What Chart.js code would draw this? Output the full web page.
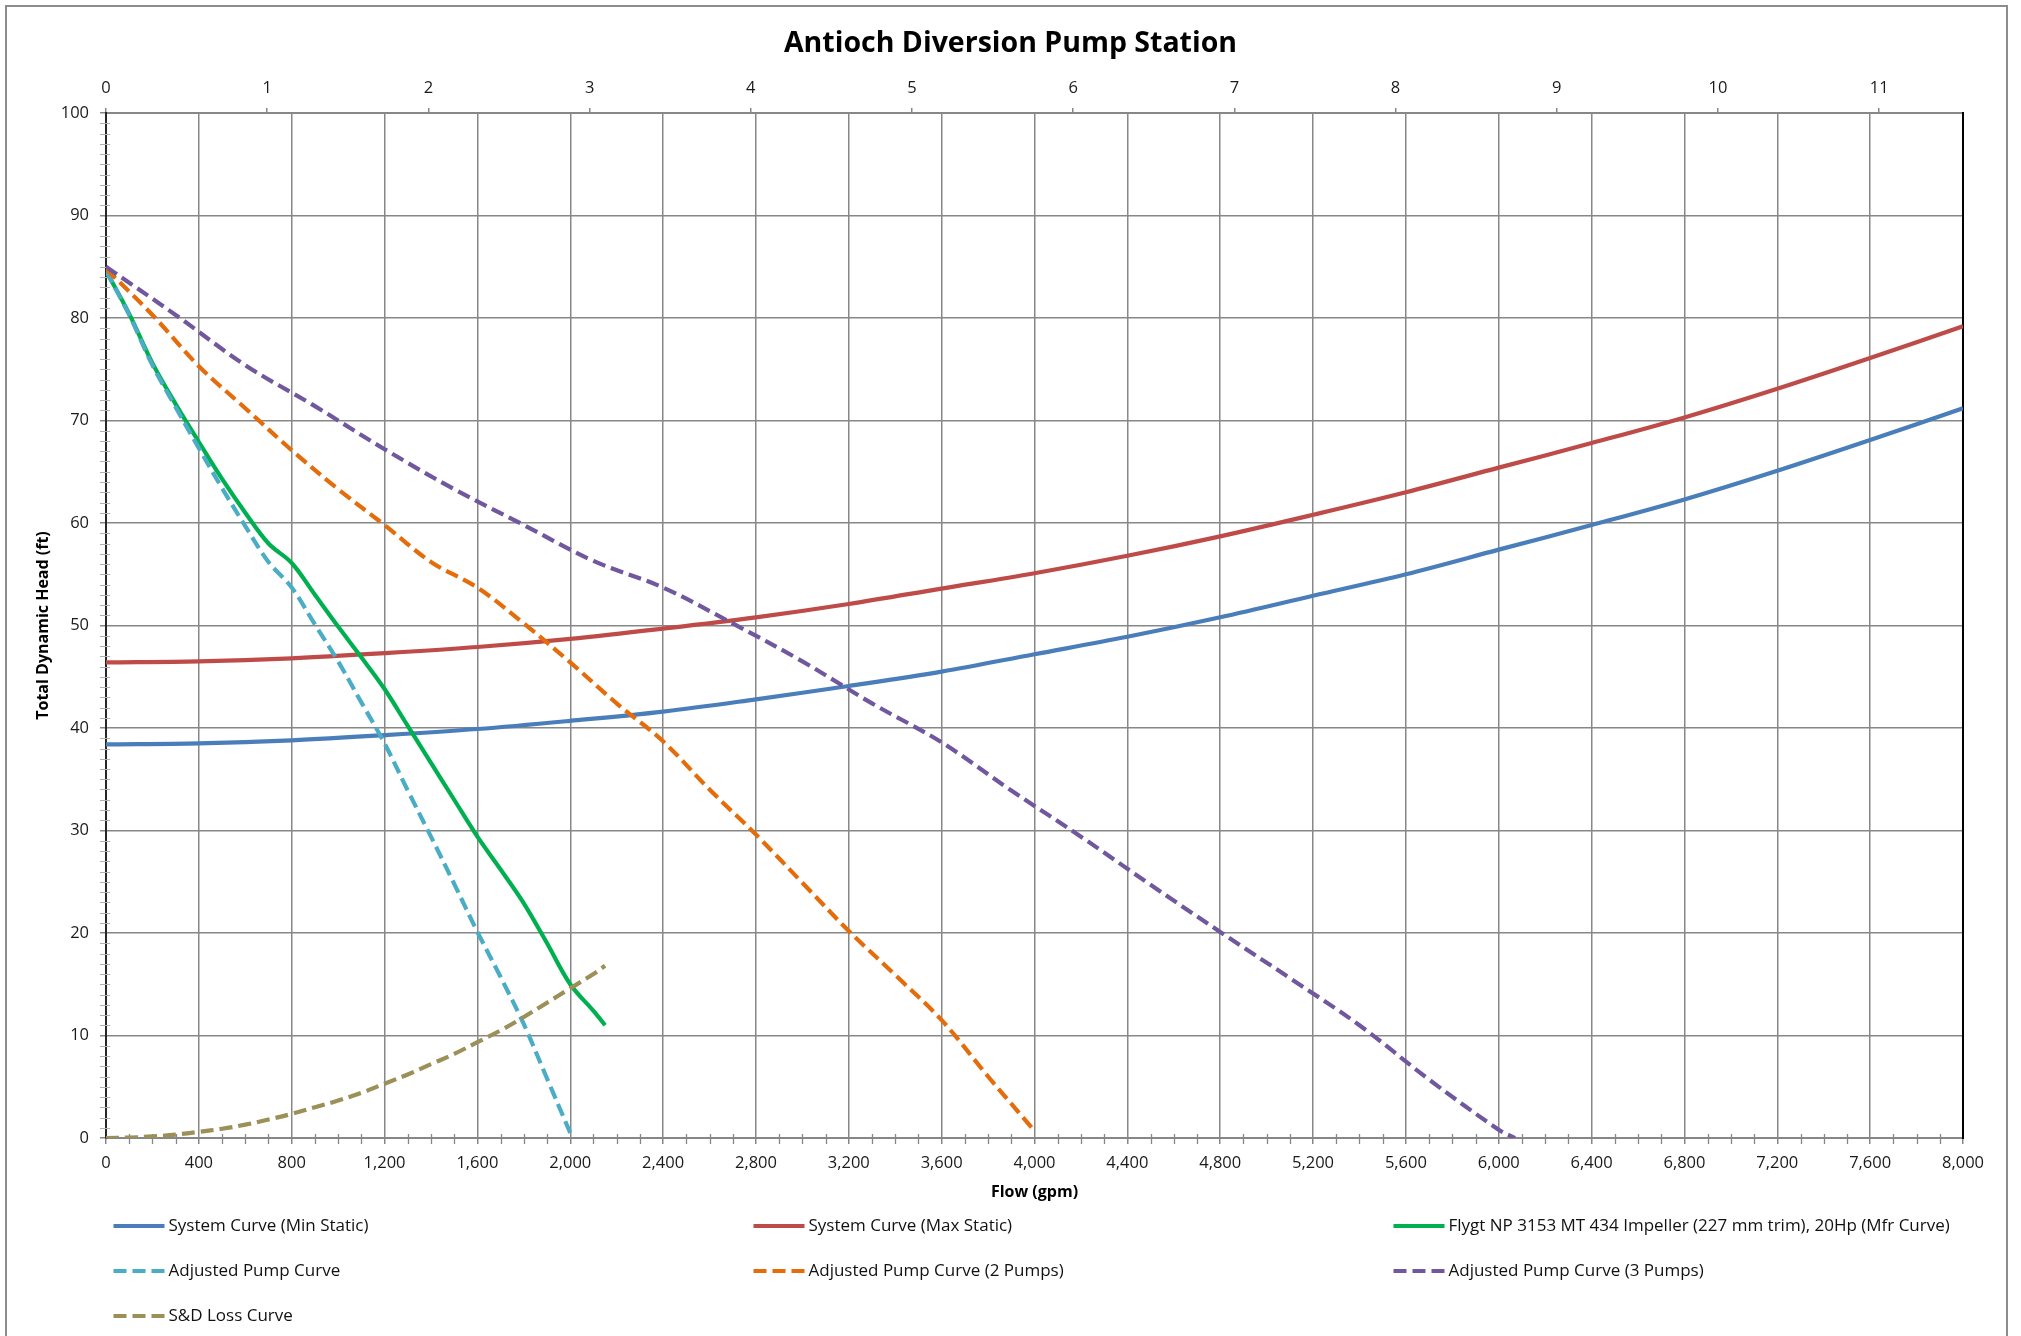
<!DOCTYPE html>
<html>
<head>
<meta charset="utf-8">
<title>Antioch Diversion Pump Station</title>
<script src="https://cdn.jsdelivr.net/npm/chart.js@4.4.1/dist/chart.umd.min.js"></script>
<style>
  html, body { margin: 0; padding: 0; background: #fff; overflow: hidden; }
  #wrap { position: relative; width: 2021px; height: 1336px; }
  #wrap canvas { position: absolute; left: 0; top: 0; }
  #frame { position: absolute; left: 5px; top: 5px; width: 2003px; height: 1400px;
           border: 2px solid #8c8c8c; box-sizing: border-box; pointer-events: none; }
</style>
</head>
<body>
<div id="wrap">
  <canvas id="chart" width="2021" height="1336"></canvas>
  <div id="frame"></div>
</div>
<script>
// ---- System curves (flow in gpm, head in ft) ----
const systemFlow = [0, 400, 800, 1200, 1600, 2000, 2400, 2800, 3200, 3600, 4000,
                    4400, 4800, 5200, 5600, 6000, 6400, 6800, 7200, 7600, 8000];
const systemHeadMin = [38.4, 38.5, 38.8, 39.3, 39.9, 40.7, 41.6, 42.8, 44.1, 45.5, 47.2,
                       48.9, 50.8, 52.9, 55.0, 57.4, 59.8, 62.3, 65.1, 68.1, 71.2];
const systemHeadMax = [46.4, 46.5, 46.8, 47.3, 47.9, 48.7, 49.7, 50.8, 52.1, 53.6, 55.1,
                       56.8, 58.7, 60.8, 63.0, 65.4, 67.8, 70.3, 73.1, 76.1, 79.2];

// ---- Single pump: manufacturer curve and suction/discharge losses ----
const pumpFlow = [0, 100, 200, 300, 400, 500, 600, 700, 800, 900, 1000, 1100,
                  1200, 1300, 1400, 1500, 1600, 1700, 1800, 1900, 2000, 2100, 2150];
const mfrHead  = [84.6, 80.4, 75.6, 71.6, 67.9, 64.3, 61.0, 58.0, 56.1, 53.0, 49.9, 46.9,
                  43.8, 40.2, 36.6, 33.0, 29.4, 26.2, 22.9, 19.0, 15.0, 12.4, 11.0];
const lossHead = [0, 0.04, 0.15, 0.33, 0.6, 0.9, 1.3, 1.8, 2.35, 3.0, 3.65, 4.4,
                  5.3, 6.2, 7.2, 8.2, 9.35, 10.5, 11.8, 13.2, 14.6, 16.0, 16.8];

// ---- Adjusted pump curves (1, 2 and 3 pumps running) ----
const adjFlow1 = [0, 100, 200, 300, 400, 500, 600, 700, 800, 900, 1000,
                  1100, 1200, 1300, 1400, 1500, 1600, 1700, 1800, 1900, 2000];
const adjHead1 = [84.6, 80.3, 75.4, 71.3, 67.3, 63.4, 59.7, 56.2, 53.7, 50.1, 46.5,
                  42.5, 38.5, 33.9, 29.4, 24.8, 20.1, 15.7, 11.1, 5.8, 0.5];
const adjFlow2 = [0, 200, 400, 600, 800, 1000, 1200, 1400, 1600, 1800, 2000,
                  2200, 2400, 2600, 2800, 3000, 3200, 3400, 3600, 3800, 4000];
const adjHead2 = [84.8, 80.3, 75.3, 71.2, 67.1, 63.3, 59.8, 56.2, 53.7, 50.2, 46.4,
                  42.4, 38.7, 34.0, 29.6, 24.9, 20.2, 15.9, 11.5, 6.0, 0.7];
const adjFlow3 = [0, 300, 600, 900, 1200, 1500, 1800, 2100, 2400, 2700, 3000,
                  3300, 3600, 3900, 4200, 4500, 4800, 5100, 5400, 5700, 6000, 6070];
const adjHead3 = [85.0, 80.3, 75.4, 71.4, 67.2, 63.3, 59.8, 56.3, 53.7, 50.2, 46.5,
                  42.4, 38.6, 33.9, 29.4, 24.7, 20.1, 15.6, 11.0, 5.7, 0.8, 0];

// ---- Axis ticks ----
const flowTicks = [0, 400, 800, 1200, 1600, 2000, 2400, 2800, 3200, 3600, 4000,
                   4400, 4800, 5200, 5600, 6000, 6400, 6800, 7200, 7600, 8000];
const headTicks = [0, 10, 20, 30, 40, 50, 60, 70, 80, 90, 100];
const mgdTicks  = [0, 1, 2, 3, 4, 5, 6, 7, 8, 9, 10, 11];
const FLOW_MAX = 8000;
const MGD_MAX = 11.52;   // 8,000 gpm expressed in MGD

const seriesNames = [
  'System Curve (Min Static)',
  'System Curve (Max Static)',
  'Flygt NP 3153 MT 434 Impeller (227 mm trim), 20Hp (Mfr Curve)',
  'Adjusted Pump Curve',
  'Adjusted Pump Curve (2 Pumps)',
  'Adjusted Pump Curve (3 Pumps)',
  'S&D Loss Curve'
];

const FONT = "'Open Sans', 'Noto Sans', sans-serif";
const GRID = '#878787';
const DASH = [13, 6];

function points(xs, ys) { return xs.map((x, i) => ({ x: x, y: ys[i] })); }

function series(i, xs, ys, color, dash) {
  return {
    label: seriesNames[i],
    data: points(xs, ys),
    borderColor: color,
    backgroundColor: color,
    borderWidth: 4.2,
    borderDash: dash || [],
    borderCapStyle: 'butt',
    borderJoinStyle: 'round',
    pointRadius: 0,
    tension: 0.35,
    fill: false,
    order: 6 - i,
    xAxisID: 'x',
    yAxisID: 'y'
  };
}

// Minor tick marks along the bottom and left axes
const minorTicks = {
  id: 'minorTicks',
  beforeDatasetsDraw(chart) {
    const ctx = chart.ctx;
    const xs = chart.scales.x, ys = chart.scales.y;
    const area = chart.chartArea;
    ctx.save();
    ctx.lineWidth = 1.3;
    ctx.strokeStyle = GRID;
    ctx.beginPath();
    for (let v = 100; v < FLOW_MAX; v += 100) {
      if (v % 400 === 0) continue;
      const px = Math.round(xs.getPixelForValue(v)) + 0.5;
      ctx.moveTo(px, area.bottom - 4);
      ctx.lineTo(px, area.bottom + 6);
    }
    ctx.stroke();
    ctx.strokeStyle = '#b0b0b0';
    ctx.lineWidth = 1;
    ctx.beginPath();
    for (let v = 1; v < 100; v += 1) {
      if (v % 10 === 0) continue;
      const py = Math.round(ys.getPixelForValue(v)) + 0.5;
      ctx.moveTo(area.left - 6, py);
      ctx.lineTo(area.left + 4, py);
    }
    ctx.stroke();
    ctx.restore();
  }
};

// Three-column legend drawn below the axis title
const gridLegend = {
  id: 'gridLegend',
  afterDraw(chart, args, opts) {
    const ctx = chart.ctx;
    ctx.save();
    ctx.font = opts.fontSize + 'px ' + FONT;
    ctx.textBaseline = 'middle';
    ctx.textAlign = 'left';
    chart.data.datasets.forEach((ds, i) => {
      const col = i % opts.columns.length;
      const row = Math.floor(i / opts.columns.length);
      const x0 = opts.columns[col];
      const y0 = opts.rows[row];
      ctx.beginPath();
      ctx.setLineDash(ds.borderDash || []);
      ctx.lineCap = 'butt';
      ctx.lineWidth = ds.borderWidth;
      ctx.strokeStyle = ds.borderColor;
      ctx.moveTo(x0, y0);
      ctx.lineTo(x0 + opts.sample, y0);
      ctx.stroke();
      ctx.setLineDash([]);
      ctx.fillStyle = '#111';
      ctx.fillText(ds.label, x0 + opts.sample + opts.gap, y0);
    });
    ctx.restore();
  }
};

const tickFont = { family: FONT, size: 16.5 };
const titleFont = { family: FONT, size: 16, weight: 'bold' };

new Chart(document.getElementById('chart'), {
  type: 'line',
  data: {
    datasets: [
      series(0, systemFlow, systemHeadMin, '#4A7EBB'),
      series(1, systemFlow, systemHeadMax, '#BE4B48'),
      series(2, pumpFlow, mfrHead, '#00B050'),
      series(3, adjFlow1, adjHead1, '#4BACC6', DASH),
      series(4, adjFlow2, adjHead2, '#E46C0A', DASH),
      series(5, adjFlow3, adjHead3, '#71589E', DASH),
      series(6, pumpFlow, lossHead, '#9A9058', DASH)
    ]
  },
  plugins: [minorTicks, gridLegend],
  options: {
    responsive: false,
    animation: false,
    devicePixelRatio: 1,
    layout: { padding: 0 },
    events: [],
    plugins: {
      legend: { display: false },
      tooltip: { enabled: false },
      title: {
        display: true,
        text: 'Antioch Diversion Pump Station',
        color: '#000',
        font: { family: FONT, size: 28.5, weight: 'bold' },
        padding: { top: 26.4, bottom: 0 }
      },
      gridLegend: {
        columns: [113.5, 753.5, 1393.5],
        rows: [1226, 1271, 1316],
        sample: 51,
        gap: 4,
        fontSize: 17
      }
    },
    scales: {
      x: {
        type: 'linear', axis: 'x', position: 'bottom',
        min: 0, max: FLOW_MAX,
        afterBuildTicks: (s) => { s.ticks = flowTicks.map(v => ({ value: v })); },
        afterFit: (s) => { s.height = 198; },
        ticks: {
          autoSkip: false, maxRotation: 0, padding: 9, color: '#1a1a1a', font: tickFont,
          callback: (v) => Number(v).toLocaleString('en-US')
        },
        grid: { color: GRID, lineWidth: 1.5, tickLength: 6 },
        border: { color: GRID, width: 2 },
        title: { display: true, text: 'Flow (gpm)', color: '#000', font: titleFont,
                 padding: { top: 0, bottom: 134.4 } }
      },
      x2: {
        type: 'linear', axis: 'x', position: 'top',
        min: 0, max: MGD_MAX,
        afterBuildTicks: (s) => { s.ticks = mgdTicks.map(v => ({ value: v })); },
        afterFit: (s) => { s.height = 52.4; },
        ticks: { autoSkip: false, maxRotation: 0, padding: 10, color: '#1a1a1a', font: tickFont },
        grid: { color: GRID, lineWidth: 1.5, tickLength: 5, drawOnChartArea: false },
        border: { color: GRID, width: 2 }
      },
      y: {
        type: 'linear', axis: 'y', position: 'left',
        min: 0, max: 100,
        afterBuildTicks: (s) => { s.ticks = headTicks.map(v => ({ value: v })); },
        afterFit: (s) => { s.width = 106; },
        ticks: { padding: 11, color: '#1a1a1a', font: tickFont },
        grid: { color: GRID, lineWidth: 1.5, tickLength: 6 },
        border: { color: '#262626', width: 2 },
        title: { display: true, text: 'Total Dynamic Head (ft)', color: '#000', font: titleFont,
                 padding: { top: 33.4, bottom: 0 } }
      },
      y2: {
        type: 'linear', axis: 'y', position: 'right',
        min: 0, max: 100,
        afterFit: (s) => { s.width = 58; },
        ticks: { display: false },
        grid: { display: false },
        border: { color: '#000', width: 2 }
      }
    }
  }
});
</script>
</body>
</html>
